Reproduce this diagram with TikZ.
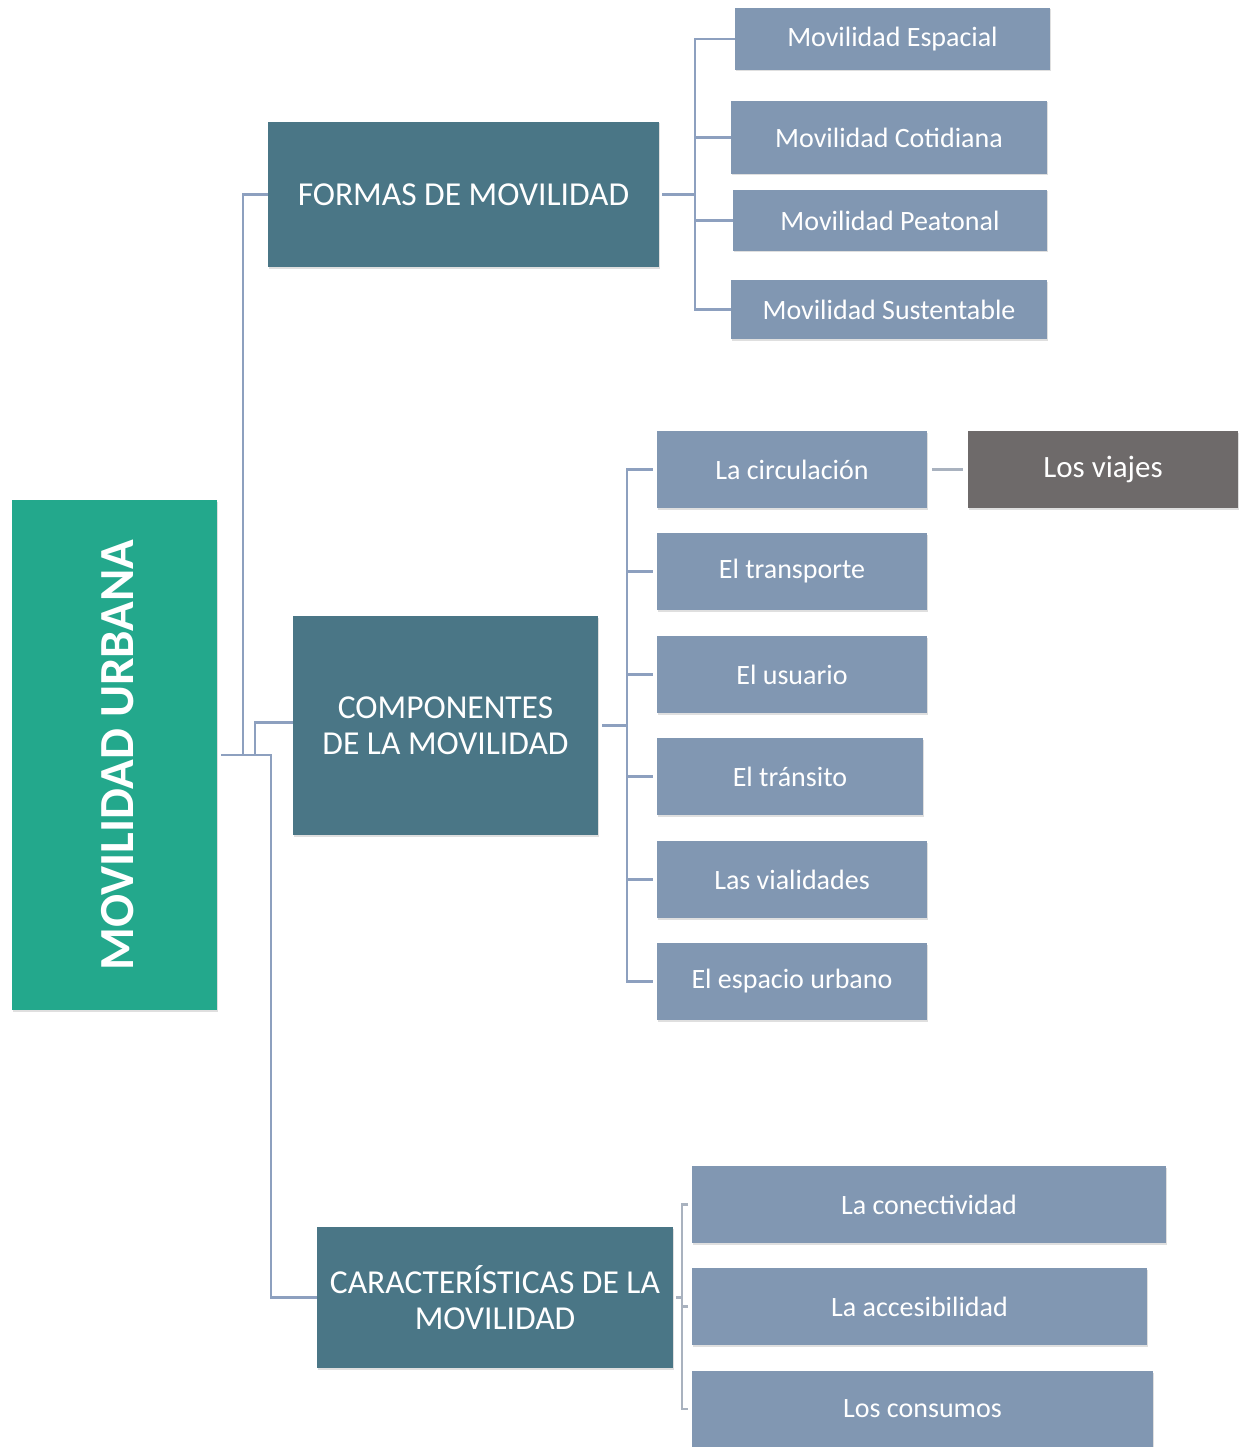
\documentclass[tikz,border=0pt]{standalone}
\usepackage{fontspec}
\setmainfont{Carlito}
\usetikzlibrary{shadows}
\definecolor{rootc}{HTML}{23A88C}
\definecolor{darkc}{HTML}{4A7686}
\definecolor{lightc}{HTML}{8197B2}
\definecolor{grayc}{HTML}{6E6A6A}
\definecolor{linec}{HTML}{8DA0BF}
\definecolor{linec2}{HTML}{A9B2BF}
\tikzset{
  box/.style={rectangle, inner sep=0pt, outer sep=0pt, text=white, align=center,
    drop shadow={opacity=0.25, shadow xshift=1.2pt, shadow yshift=-1.5pt}},
  rootbox/.style={box, fill=rootc},
  darkbox/.style={box, fill=darkc, font=\fontsize{33.5}{36}\selectfont},
  lightbox/.style={box, fill=lightc, font=\fontsize{28}{30}\selectfont},
  graybox/.style={box, fill=grayc, font=\fontsize{31}{34}\selectfont},
  conn/.style={draw=linec, line width=2.6pt},
  conn2/.style={draw=linec2, line width=2.2pt},
}
\newcommand{\bx}[6]{% style, name, x1, y1, x2, y2, text
  \node[#1, minimum width={#5-#3}, minimum height={#6-#4}] (#2) at ({(#3+#5)/2},{(#4+#6)/2})}
\begin{document}
\begin{tikzpicture}[x=1pt,y=-1pt]
\useasboundingbox (0,0) rectangle (1241,1447);
\fill[white] (0,0) rectangle (1241,1447);

% root
\bx{rootbox}{root}{12}{500}{217}{1010} {};
\node[rotate=90, text=white, font=\bfseries\fontsize{49}{52}\selectfont] (rootlabel) at ([xshift=3pt]root.center) {MOVILIDAD URBANA};

% level 1
\bx{darkbox}{formas}{268}{122}{659}{267} {FORMAS DE MOVILIDAD};
\bx{darkbox}{comp}{293}{616}{598}{835} {COMPONENTES\\DE LA MOVILIDAD};
\bx{darkbox}{car}{317}{1227}{673}{1368} {CARACTERÍSTICAS DE LA\\MOVILIDAD};

% formas children
\bx{lightbox}{esp}{735}{8}{1050}{70} {Movilidad Espacial};
\bx{lightbox}{cot}{731}{101}{1047}{174} {Movilidad Cotidiana};
\bx{lightbox}{pea}{733}{190}{1047}{251} {Movilidad Peatonal};
\bx{lightbox}{sus}{731}{280}{1047}{339} {Movilidad Sustentable};

% componentes children
\bx{lightbox}{circ}{657}{431}{927}{508} {La circulación};
\bx{lightbox}{trans}{657}{533}{927}{610} {El transporte};
\bx{lightbox}{usu}{657}{636}{927}{713} {El usuario};
\bx{lightbox}{tran}{657}{738}{923}{815} {El tránsito};
\bx{lightbox}{via}{657}{841}{927}{918} {Las vialidades};
\bx{lightbox}{espu}{657}{943}{927}{1020} {El espacio urbano};
\bx{graybox}{viajes}{968}{431}{1238}{508} {Los viajes};

% caracteristicas children
\bx{lightbox}{con}{692}{1166}{1166}{1243} {La conectividad};
\bx{lightbox}{acc}{692}{1268}{1147}{1345} {La accesibilidad};
\bx{lightbox}{cons}{692}{1371}{1153}{1447} {Los consumos};

% root connectors
\draw[conn] ([xshift=4pt]root.east) -- ++(22,0) |- (formas.west);
\draw[conn] ([xshift=4pt]root.east) -- ++(50,0) |- (car.west);
\draw[conn] ([xshift=38pt]root.east) |- ([yshift=3pt]comp.west);

% formas connectors
\draw[conn] ([xshift=3pt]formas.east) -- ++(33,0) coordinate (fj);
\foreach \c in {esp,cot,pea,sus} \draw[conn] (fj) |- (\c.west);

% componentes connectors
\draw[conn] ([xshift=4pt]comp.east) -- ++(25,0) coordinate (cj);
\foreach \c in {circ,trans,usu,tran,via,espu} \draw[conn] (cj) |- ([xshift=-4pt]\c.west);
\draw[conn2] ([xshift=5pt]circ.east) -- ([xshift=-5pt]viajes.west);

% caracteristicas bracket
\draw[conn2] ([xshift=-4pt]con.west) -- ++(-6,0) |- ([xshift=-4pt]cons.west);
\draw[conn2] ([xshift=-4pt]acc.west) -- ++(-6,0);
\draw[conn2] ([xshift=3pt]car.east) -- ++(6,0);
\end{tikzpicture}
\end{document}
